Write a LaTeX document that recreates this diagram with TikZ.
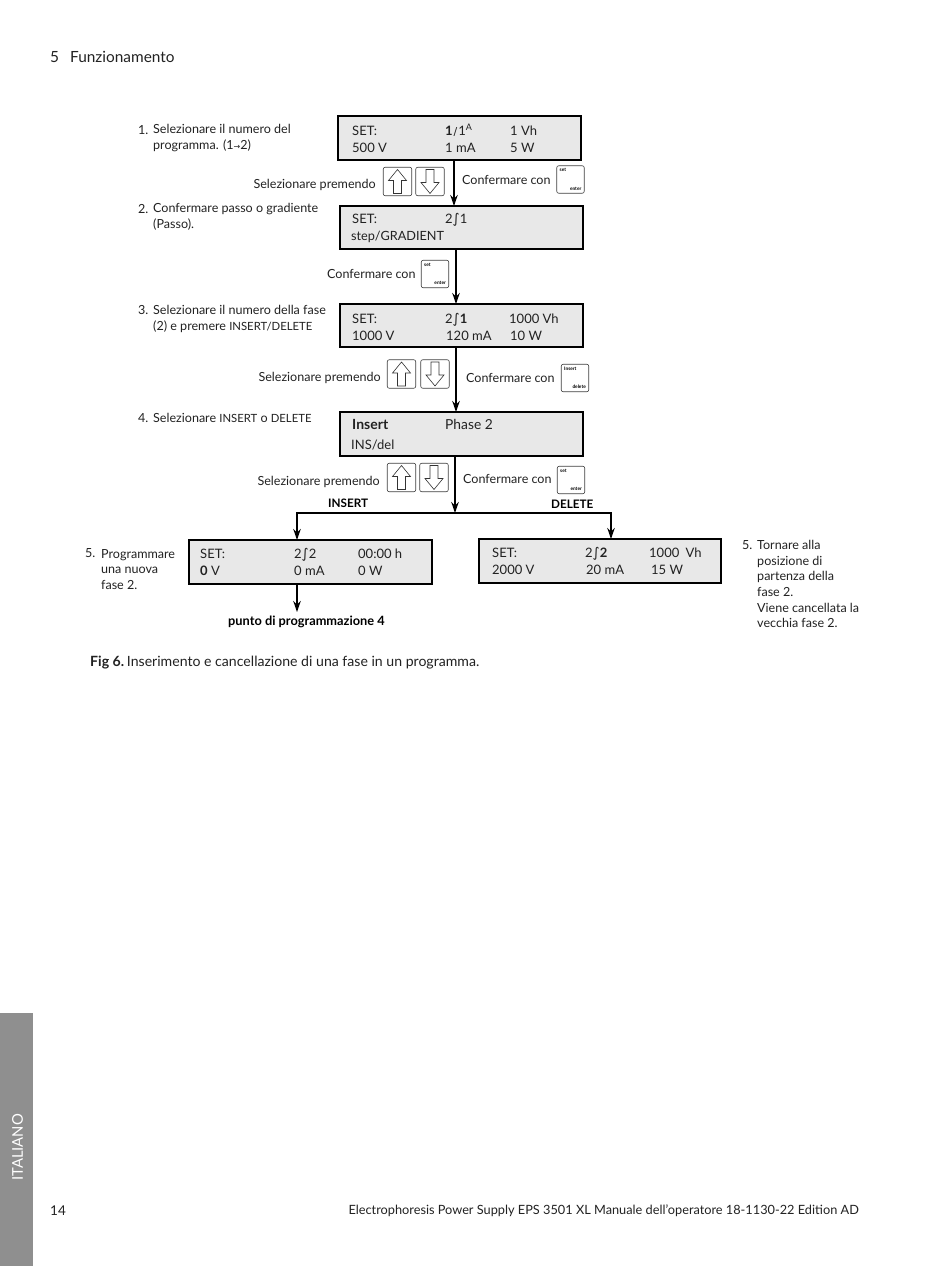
\documentclass[tikz,border=0pt]{standalone}
\usepackage{fontspec}
\setmainfont{Lato}
\newfontfamily\symf{DejaVu Sans}
\usetikzlibrary{arrows.meta}
\definecolor{lcd}{HTML}{E8E8E8}
\definecolor{side}{HTML}{8F8F8F}
\definecolor{ink}{HTML}{222222}
\newcommand{\intg}{{\symf\fontsize{13.5}{13.5}\selectfont ∫}}
\newcommand{\capsz}[1]{{\fontsize{11.3}{15.7}\selectfont #1}}
\newcommand{\upkey}[2]{\node[keyst] (#1) at (#2) {};
  \draw[glyph,shift={(#1.center)}] (0,-12)--(9,-1)--(4,-1)--(4,12)--(-4,12)--(-4,-1)--(-9,-1)--cycle;}
\newcommand{\dnkey}[2]{\node[keyst] (#1) at (#2) {};
  \draw[glyph,shift={(#1.center)}] (0,12)--(9,1)--(4,1)--(4,-12)--(-4,-12)--(-4,1)--(-9,1)--cycle;}
\newcommand{\smallkey}[4]{\node[skeyst] (#1) at (#2) {};
  \node[tiny,anchor=north west] (#1t) at ([shift={(3,3)}]#1.north west) {#3};
  \node[tiny,anchor=south east] (#1b) at ([shift={(-3,-3)}]#1.south east) {#4};}
\tikzset{
  lcdbox/.style={draw=black,fill=lcd,line width=1.5pt,inner sep=0pt,outer sep=0pt,anchor=north west},
  lbl/.style={anchor=base west,inner sep=0pt,text=ink,font=\fontsize{12.55}{15.7}\selectfont},
  lcdt/.style={anchor=base west,inner sep=0pt,text=ink,font=\fontsize{13}{16}\selectfont},
  boldl/.style={anchor=base west,inner sep=0pt,text=black,font=\fontsize{11.7}{14}\selectfont\bfseries},
  tiny/.style={inner sep=0pt,text=black,font=\fontsize{4.8}{5}\selectfont\bfseries},
  keyst/.style={draw=black!75,rounded corners=2pt,line width=0.6pt,minimum width=28.5pt,minimum height=28.5pt,inner sep=0pt},
  skeyst/.style={draw=black!75,rounded corners=2pt,line width=0.6pt,minimum width=27.5pt,minimum height=27.5pt,inner sep=0pt},
  glyph/.style={draw=black!80,line width=0.6pt},
  arr/.style={draw=black,line width=1.4pt,-{Stealth[length=11pt,width=7.5pt]}}
}
\begin{document}
\begin{tikzpicture}[x=1pt,y=-1pt]
\useasboundingbox (0,0) rectangle (950,1266);
\fill[white] (0,0) rectangle (950,1266);
% header, footer, side tab
\node[lbl,font=\fontsize{15.4}{17}\selectfont] (hd) at (50,62) {5\hspace{11pt}Funzionamento};
\node[lbl,font=\fontsize{13.5}{15}\selectfont] (pg) at (50,1215) {14};
\node[lbl,anchor=base east,font=\fontsize{12.75}{15}\selectfont] (ft) at (859,1214) {Electrophoresis Power Supply EPS 3501 XL Manuale dell’operatore 18-1130-22 Edition AD};
\fill[side] (0,1013) rectangle (33,1266);
\node[rotate=90,anchor=base west,inner sep=0pt,text=white,font=\fontsize{14.8}{17}\selectfont] (it) at (23,1181) {ITALIANO};
% boxes
\node[lcdbox,minimum width=243pt,minimum height=44pt] (b1) at (338,116) {};
\node[lcdbox,minimum width=243pt,minimum height=43pt] (b2) at (340,206) {};
\node[lcdbox,minimum width=243pt,minimum height=43pt] (b3) at (340,304) {};
\node[lcdbox,minimum width=243pt,minimum height=44pt] (b4) at (340,412) {};
\node[lcdbox,minimum width=243pt,minimum height=44pt] (b5) at (189,540) {};
\node[lcdbox,minimum width=242pt,minimum height=44pt] (b6) at (479,539) {};
% connectors
\coordinate (xa) at (454,0);
\coordinate (xb) at (456,0);
\coordinate (xc) at (455,513);
\coordinate (xl) at (297,513);
\coordinate (xr) at (611,513);
\coordinate (endp) at (297,612);
\draw[arr] (b1.south -| xa) -- (b2.north -| xa);
\draw[arr] (b2.south -| xb) -- (b3.north -| xb);
\draw[arr] (b3.south -| xb) -- (b4.north -| xb);
\draw[arr] (b4.south -| xc) -- (xc);
\draw[arr] (xc) -- (xl) -- (b5.north -| xl);
\draw[arr] (xc) -- (xr) -- (b6.north -| xr);
\draw[arr] (b5.south -| endp) -- (endp);
% box 1 text
\node[lcdt] (t11) at (352,135) {SET:};
\node[lcdt] (t12) at (445,135) {\textbf{1}\hspace{1pt}{\symf\fontsize{11}{11}\selectfont ∕}\hspace{1pt}1\raisebox{5pt}{\fontsize{9}{9}\selectfont A}};
\node[lcdt] (t13) at (510,135) {1 Vh};
\node[lcdt] (t14) at (352,152) {500 V};
\node[lcdt] (t15) at (445,152) {1 mA};
\node[lcdt] (t16) at (510,152) {5 W};
% box 2 text
\node[lcdt] (t21) at (352,223) {SET:};
\node[lcdt] (t22) at (445,223) {2\intg 1};
\node[lcdt,font=\fontsize{12.7}{16}\selectfont] (t23) at (351,240) {step/GRADIENT};
% box 3 text
\node[lcdt] (t31) at (352,323) {SET:};
\node[lcdt] (t32) at (445,323) {2\intg\textbf{1}};
\node[lcdt] (t33) at (509,323) {1000 Vh};
\node[lcdt] (t34) at (352,340) {1000 V};
\node[lcdt] (t35) at (446,340) {120 mA};
\node[lcdt] (t36) at (510,340) {10 W};
% box 4 text
\node[lcdt,font=\fontsize{14}{16}\selectfont] (t41) at (352,429) {\textbf{Insert}};
\node[lcdt,font=\fontsize{13.8}{16}\selectfont] (t42) at (445,429) {Phase 2};
\node[lcdt] (t43) at (351,449) {INS/del};
% box 5 text
\node[lcdt] (t51) at (200,558) {SET:};
\node[lcdt] (t52) at (294,558) {2\intg 2};
\node[lcdt] (t53) at (358,558) {00:00 h};
\node[lcdt] (t54) at (200,575) {\textbf{0} V};
\node[lcdt] (t55) at (294,575) {0 mA};
\node[lcdt] (t56) at (358,575) {0 W};
% box 6 text
\node[lcdt] (t61) at (492,557) {SET:};
\node[lcdt] (t62) at (585,557) {2\intg\textbf{2}};
\node[lcdt] (t63) at (649,557) {1000\hspace{3pt} Vh};
\node[lcdt] (t64) at (492,574) {2000 V};
\node[lcdt] (t65) at (586,574) {20 mA};
\node[lcdt] (t66) at (651,574) {15 W};
% left steps
\node[lbl] (s1n) at (138,134) {1.};
\node[lbl,align=left,anchor=north west] (s1) at (153,124.5) {Selezionare il numero del\\programma. (1{\symf\fontsize{8}{8}\selectfont →}2)};
\node[lbl] (s2n) at (138,213) {2.};
\node[lbl,align=left,anchor=north west] (s2) at (153,203.5) {Confermare passo o gradiente\\(Passo).};
\node[lbl] (s3n) at (138,314.5) {3.};
\node[lbl,align=left,anchor=north west] (s3) at (153,305.5) {Selezionare il numero della fase\\(2) e premere \capsz{INSERT/DELETE}};
\node[lbl] (s4n) at (138,422) {4.};
\node[lbl] (s4) at (153,422) {Selezionare \capsz{INSERT} o \capsz{DELETE}};
\node[lbl] (s5n) at (85,557) {5.};
\node[lbl,align=left,anchor=north west] (s5) at (101,549) {Programmare\\una nuova\\fase 2.};
\node[lbl] (s6n) at (742,549) {5.};
\node[lbl,align=left,anchor=north west] (s6) at (757,540) {Tornare alla\\posizione di\\partenza della\\fase 2.\\Viene cancellata la\\vecchia fase 2.};
% row captions
\node[lbl,anchor=base east] (c1) at (376,188) {Selezionare premendo};
\node[lbl] (c2) at (462,184) {Confermare con};
\node[lbl] (c3) at (327,278) {Confermare con};
\node[lbl,anchor=base east] (c4) at (381,381) {Selezionare premendo};
\node[lbl] (c5) at (466,382) {Confermare con};
\node[lbl,anchor=base east] (c6) at (380,485) {Selezionare premendo};
\node[lbl] (c7) at (463,483) {Confermare con};
\node[boldl] (ins) at (328,507) {INSERT};
\node[boldl] (del) at (551,508) {DELETE};
\node[boldl,font=\fontsize{12.8}{15}\selectfont\bfseries] (pp) at (228,625) {punto di programmazione 4};
\node[lbl,font=\fontsize{14.1}{16}\selectfont] (cap) at (90,666) {\textbf{Fig 6.}\hspace{-2pt} Inserimento e cancellazione di una fase in un programma.};
% keys
\upkey{u1}{397.5,181.5}
\dnkey{d1}{430,181.5}
\smallkey{e1}{570.5,179.5}{set}{enter}
\smallkey{e2}{435,274}{set}{enter}
\upkey{u2}{401.5,374}
\dnkey{d2}{435,374}
\smallkey{e3}{575,378}{Insert}{delete}
\upkey{u3}{401.5,477.5}
\dnkey{d3}{434,477.5}
\smallkey{e4}{571,480}{set}{enter}
\end{tikzpicture}
\end{document}
